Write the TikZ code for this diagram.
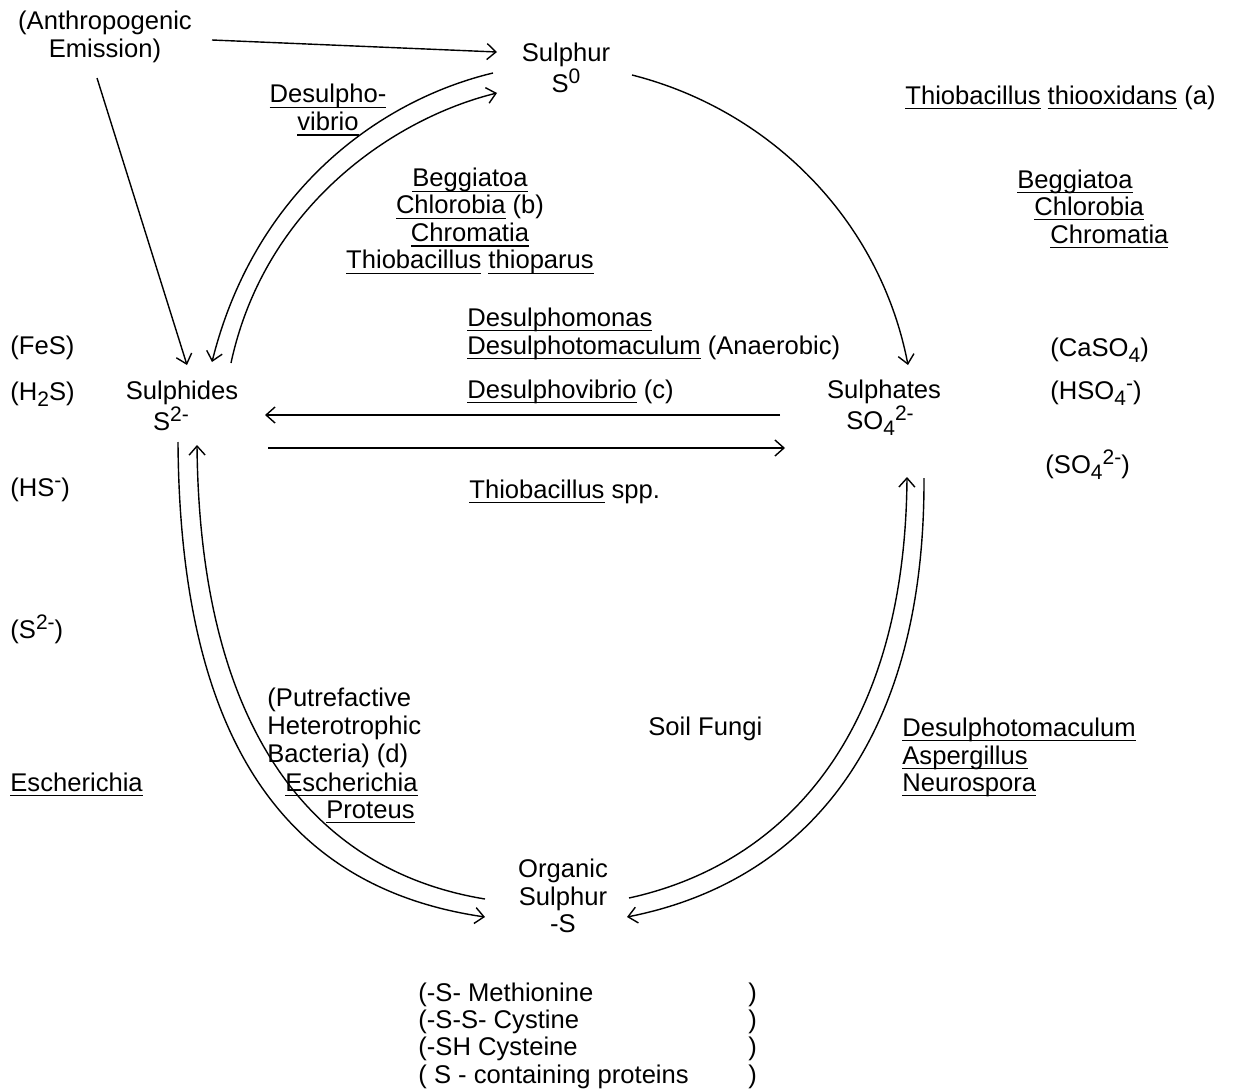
\documentclass[tikz,border=0pt]{standalone}
\usepackage{fontspec}
\setmainfont{Liberation Sans}
\usetikzlibrary{arrows.meta}
\newcommand\ulin[1]{\setbox0\hbox{#1}\rlap{\rule[-2.6pt]{\wd0}{0.6pt}}\box0\relax}
\newcommand\sups[1]{\raisebox{4.5pt}{\fontsize{10.5}{10.5}\selectfont #1}}
\newcommand\subs[1]{\raisebox{-3pt}{\fontsize{10.5}{10.5}\selectfont #1}}
\begin{document}
\begin{tikzpicture}[x=0.5pt,y=-0.5pt,
  font=\fontsize{12.8}{13.7}\selectfont,
  lbl/.style={inner sep=0pt, anchor=base west},
  lblr/.style={inner sep=0pt, anchor=base east},
  ctr/.style={inner sep=0pt, align=center},
  arr/.style={line width=0.7pt, -{Straight Barb[length=4.5pt,width=8pt]}}]
\useasboundingbox[fill=white] (0,0) rectangle (1249,1092);

% main nodes
\node[ctr] (anth) at (105,37) {(Anthropogenic\\Emission)};
\node[ctr] (sulphur) at (566,68) {Sulphur\\S\sups{0}};
\node[ctr] (sulphides) at (182,406) {Sulphides\\S\sups{2-}\hspace*{11pt}};
\node[ctr] (sulphates) at (884,408) {Sulphates\\SO\subs{4}\sups{2-}\hspace*{4pt}};
\node[ctr] (organic) at (563,896) {Organic\\Sulphur\\-S};

% labels
\node[ctr] (desvib) at (328,110) {\ulin{Desulpho-}\\\ulin{vibrio}};
\node[ctr] (beggb) at (470,221) {\ulin{Beggiatoa}\\\ulin{Chlorobia} (b)\\\ulin{Chromatia}\\\ulin{Thiobacillus} \ulin{thioparus}};
\node[lbl] (thiox) at (905,104) {\ulin{Thiobacillus} \ulin{thiooxidans} (a)};
\node[lbl] (rb1) at (1017,188) {\ulin{Beggiatoa}};
\node[lbl] (rb2) at (1034,215) {\ulin{Chlorobia}};
\node[lbl] (rb3) at (1050,243) {\ulin{Chromatia}};
\node[lbl] (dmonas) at (467,326) {\ulin{Desulphomonas}};
\node[lbl] (dmac) at (467,354) {\ulin{Desulphotomaculum} (Anaerobic)};
\node[lbl] (dvibc) at (467,398) {\ulin{Desulphovibrio} (c)};
\node[lbl] (thspp) at (469,498) {\ulin{Thiobacillus} spp.};
\node[lbl] (fes) at (10,354) {(FeS)};
\node[lbl] (h2s) at (10,400) {(H\subs{2}S)};
\node[lbl] (hs) at (10,496) {(HS\sups{-})};
\node[lbl] (s2) at (10,638) {(S\sups{2-})};
\node[lbl] (caso4) at (1050,356) {(CaSO\subs{4})};
\node[lbl] (hso4) at (1050,399) {(HSO\subs{4}\sups{-})};
\node[lbl] (so4) at (1045,473) {(SO\subs{4}\sups{2-})};
\node[lbl] (eschl) at (10,791) {\ulin{Escherichia}};
\node[lbl] (putr) at (267,706) {(Putrefactive};
\node[lbl] (hetero) at (267,734) {Heterotrophic};
\node[lbl] (bact) at (267,762) {Bacteria) (d)};
\node[lblr] (eschr) at (418,791) {\ulin{Escherichia}};
\node[lblr] (prot) at (415,818) {\ulin{Proteus}};
\node[lbl] (fungi) at (648,735) {Soil Fungi};
\node[lbl] (dmac2) at (902,736) {\ulin{Desulphotomaculum}};
\node[lbl] (asp) at (902,764) {\ulin{Aspergillus}};
\node[lbl] (neur) at (902,791) {\ulin{Neurospora}};
\node[lbl] (l1) at (418,1001) {(-S- Methionine};
\node[lbl] (l2) at (418,1028) {(-S-S- Cystine};
\node[lbl] (l3) at (418,1055) {(-SH Cysteine};
\node[lbl] (l4) at (418,1083) {( S - containing proteins};
\node[lbl] (r1) at (748,1001) {)};
\node[lbl] (r2) at (748,1028) {)};
\node[lbl] (r3) at (748,1055) {)};
\node[lbl] (r4) at (748,1083) {)};

% connector end points
\coordinate (anthE) at (212,40);
\coordinate (anthS) at (97,78);
\coordinate (sulW) at (497,52);
\coordinate (sulA) at (493,73);
\coordinate (sulB) at (497,93);
\coordinate (sulR) at (632,75);
\coordinate (sdN0) at (187,365);
\coordinate (sdN1) at (212,362);
\coordinate (sdN2) at (231,363);
\coordinate (sdE1) at (265,415);
\coordinate (sdE2) at (268,448);
\coordinate (sdS1) at (178,442);
\coordinate (sdS2) at (197,445);
\coordinate (saN) at (908,365);
\coordinate (saW1) at (780,415);
\coordinate (saW2) at (785,448);
\coordinate (saS1) at (907,477);
\coordinate (saS2) at (924,478);
\coordinate (orW1) at (485,899);
\coordinate (orW2) at (485,917);
\coordinate (orE1) at (629,898);
\coordinate (orE2) at (627,917);

% connectors
\draw[arr] (anthE) -- (sulW);
\draw[arr] (anthS) -- (sdN0);
\draw[arr] (sulR) .. controls (770,110) and (880,220) .. (saN);
\draw[arr] (sulA) .. controls (380,100) and (255,190) .. (sdN1);
\draw[arr] (sdN2) .. controls (265,205) and (395,118) .. (sulB);
\draw[arr] (saW1) -- (sdE1);
\draw[arr] (sdE2) -- (saW2);
\draw[arr] (sdS1) .. controls (180,760) and (300,890) .. (orW2);
\draw[arr] (orW1) .. controls (320,872) and (200,740) .. (sdS2);
\draw[arr] (saS2) .. controls (925,760) and (790,885) .. (orE2);
\draw[arr] (orE1) .. controls (780,865) and (905,740) .. (saS1);
\end{tikzpicture}
\end{document}
